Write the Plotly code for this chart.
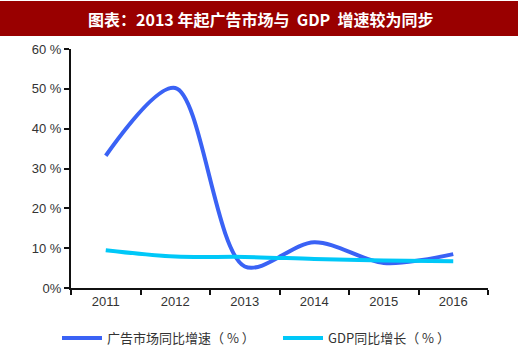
import plotly.graph_objects as go

years = ["2011", "2012", "2013", "2014", "2015", "2016"]
ad_growth = [33.2, 50.2, 5.4, 11.5, 6.3, 8.5]
gdp_growth = [9.5, 7.9, 7.8, 7.3, 6.9, 6.7]
ytick_vals = [0, 10, 20, 30, 40, 50, 60]
ytick_text = ["0%", "10 %", "20 %", "30 %", "40 %", "50 %", "60 %"]
title_text = "图表：2013 年起广告市场与  GDP  增速较为同步"
name_ad = "广告市场同比增速（ % ）"
name_gdp = "GDP同比增长（ % ）"

W, H = 520, 356
L, R, T, B = 71, 32, 49, 68
pw, ph = W - L - R, H - T - B

font_fam = "Liberation Sans, Noto Sans CJK SC, sans-serif"

fig = go.Figure()
fig.add_trace(go.Scatter(x=years, y=ad_growth, mode="lines", name=name_ad, legend="legend",
                         line=dict(color="#3a62f5", width=4, shape="spline", smoothing=0.9)))
fig.add_trace(go.Scatter(x=years, y=gdp_growth, mode="lines", name=name_gdp, legend="legend2",
                         line=dict(color="#00c8f8", width=4, shape="spline", smoothing=1.0)))

def px_x(x):
    return (x - L) / pw

def px_y(y):
    return (H - B - y) / ph

fig.add_shape(type="rect", xref="paper", yref="paper",
              x0=px_x(0), x1=px_x(518), y0=px_y(36), y1=px_y(1),
              fillcolor="#990000", line=dict(width=0), layer="below")
fig.add_annotation(xref="paper", yref="paper", x=px_x(261), y=px_y(18.5),
                   text="<b>" + title_text + "</b>", showarrow=False,
                   font=dict(family="Noto Sans CJK SC, sans-serif", size=16, color="white"),
                   xanchor="center", yanchor="middle")

leg_font = dict(family="Noto Sans CJK SC, sans-serif", size=13, color="#333333")
fig.update_layout(
    width=W, height=H,
    margin=dict(l=L, r=R, t=T, b=B, autoexpand=False),
    paper_bgcolor="white", plot_bgcolor="white",
    font=dict(family=font_fam, size=12, color="#333333"),
    showlegend=True,
    legend=dict(x=px_x(57), xanchor="left", y=px_y(338), yanchor="middle",
                font=leg_font, itemwidth=40, bgcolor="rgba(0,0,0,0)"),
    legend2=dict(x=px_x(278), xanchor="left", y=px_y(338), yanchor="middle",
                 font=leg_font, itemwidth=40, bgcolor="rgba(0,0,0,0)"),
    xaxis=dict(type="category", tickson="boundaries", ticks="outside", ticklen=5,
               tickwidth=2, tickcolor="#111111", showline=True, linecolor="#111111",
               linewidth=2, showgrid=False, range=[-0.5, 5.5],
               tickfont=dict(size=13, color="#333333")),
    yaxis=dict(range=[0, 60], tickvals=ytick_vals, ticktext=ytick_text,
               ticks="outside", ticklen=5, tickwidth=2, tickcolor="#111111",
               showline=True, linecolor="#111111", linewidth=2, showgrid=False,
               zeroline=False, tickfont=dict(size=13, color="#333333")),
)

fig.write_html("out.html", config={"displayModeBar": False},
               post_script="document.body.style.margin='0';document.body.style.overflow='hidden';")
